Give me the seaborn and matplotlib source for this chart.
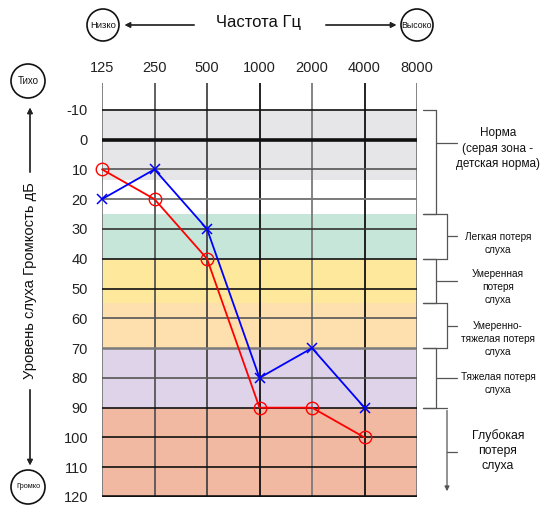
import matplotlib
matplotlib.use("Agg")
import matplotlib.pyplot as plt
import matplotlib.transforms as mtransforms
from matplotlib.patches import Ellipse
from matplotlib.lines import Line2D
import pandas as pd
import seaborn as sns

# data
freqs = ["125", "250", "500", "1000", "2000", "4000", "8000"]
right_ear = [10, 20, 40, 90, 90, 100]   # red circles
left_ear = [20, 10, 30, 80, 70, 90]     # blue crosses
db_ticks = [-10, 0, 10, 20, 30, 40, 50, 60, 70, 80, 90, 100, 110, 120]

zone_bounds = [(-10, 13.5), (25, 40), (40, 55), (55, 70), (70, 90), (90, 120)]
zone_colors = ["#e6e6e8", "#c6e6da", "#fde89b", "#fee0ae", "#dfd3ea", "#f2b9a2"]
zone_labels = ["Норма\n(серая зона -\nдетская норма)", "Легкая потеря\nслуха",
               "Умеренная\nпотеря\nслуха", "Умеренно-\nтяжелая потеря\nслуха",
               "Тяжелая потеря\nслуха", "Глубокая\nпотеря\nслуха"]

sns.set_style("white")
plt.rcParams['font.family'] = ['Liberation Sans', 'DejaVu Sans']

W, H = 550, 515
fig = plt.figure(figsize=(5.5, 5.15), dpi=100)
ax = fig.add_axes([102 / W, 18 / H, 315 / W, 414 / H])


def px(x, y):
    return (x / W, 1 - y / H)


# colored zones
for (a, b), c in zip(zone_bounds, zone_colors):
    ax.axhspan(a, b, color=c, lw=0, zorder=0)

# grid
v_colors = ["#7a7a7a", "#555555", "#444444", "#111111", "#7a7a7a", "#111111", "#7a7a7a"]
for i, c in enumerate(v_colors):
    ax.vlines(i, -19, 120, color=c, lw=1.3, zorder=1)
h_colors = ["#111", "#111", "#555", "#7a7a7a", "#333", "#111", "#111", "#555",
            "#7a7a7a", "#555", "#111", "#111", "#111", "#111"]
h_widths = [1.2, 2.6, 1.2, 1.4, 1.2, 1.2, 1.2, 1.2, 1.8, 1.2, 1.2, 1.2, 1.2, 2.6]
for yv, c, w in zip(db_ticks, h_colors, h_widths):
    ax.hlines(yv, 0, 6, color=c, lw=w, zorder=1)

df = pd.DataFrame({"x": list(range(len(right_ear))), "right": right_ear, "left": left_ear})
sns.lineplot(data=df, x="x", y="right", color="red", lw=1.3, marker="o", ms=9,
             markerfacecolor="none", markeredgecolor="red", markeredgewidth=1, ax=ax,
             zorder=3, clip_on=False)
sns.lineplot(data=df, x="x", y="left", color="blue", lw=1.3, marker="x", ms=7,
             markeredgecolor="blue", markeredgewidth=1.1, ax=ax, zorder=3, clip_on=False)

ax.set_xlim(0, 6)
ax.set_ylim(120, -19)
ax.xaxis.tick_top()
ax.set_xticks(range(len(freqs)))
ax.set_xticklabels(freqs)
ax.set_yticks(db_ticks)
ax.set_yticklabels([str(t) for t in db_ticks])
ax.tick_params(axis="x", length=0, pad=6, labelsize=10.5, colors="#222")
ax.tick_params(axis="y", length=0, pad=10, labelsize=10.5, colors="#222")
ax.set_xlabel("")
ax.set_ylabel("")
for s in ax.spines.values():
    s.set_visible(False)

# right-side brackets
tr = mtransforms.blended_transform_factory(fig.transFigure, ax.transData)
br_x = [436, 447, 436, 447, 436, 447]
mid_y = [1, 32.5, 47.5, 62.5, 80, 105]
text_y = [3, 35, 49.5, 67, 82, 104.5]
text_size = [8.5, 7.3, 7.3, 7.3, 7.3, 8.8]
bc = "#555555"
for (a, b), xv, my, ty, ts, lab in zip(zone_bounds, br_x, mid_y, text_y, text_size, zone_labels):
    if a == -10:
        b = 25
    fig.add_artist(Line2D([423 / W, xv / W], [a, a], transform=tr, color=bc, lw=0.9))
    if b < 120:
        fig.add_artist(Line2D([423 / W, xv / W], [b, b], transform=tr, color=bc, lw=0.9))
        fig.add_artist(Line2D([xv / W, xv / W], [a, b], transform=tr, color=bc, lw=0.9))
    fig.add_artist(Line2D([xv / W, 457 / W], [my, my], transform=tr, color=bc, lw=0.9))
    fig.text(498 / W, ty, lab, transform=tr, ha="center", va="center", fontsize=ts,
             color="#111", linespacing=1.35)
ax.annotate("", xy=(447 / W, 119), xytext=(447 / W, 90), xycoords=tr, textcoords=tr,
            arrowprops=dict(arrowstyle="-|>", color=bc, lw=0.9, mutation_scale=7),
            annotation_clip=False)

# circles with labels
for cx, cy, r, lab, fs in [(103, 25, 16, "Низко", 6.8), (417, 25, 16, "Высоко", 6.3),
                           (28, 81, 17, "Тихо", 7), (28, 487, 17, "Громко", 5.3)]:
    fig.add_artist(Ellipse(px(cx, cy), 2 * r / W, 2 * r / H, transform=fig.transFigure,
                           fill=False, ec="#111", lw=1.2))
    fig.text(*px(cx, cy), lab, ha="center", va="center", fontsize=fs, color="#111")

arrow = dict(arrowstyle="-|>", color="#222", lw=0.9, mutation_scale=8)
fig.add_artist(plt.annotate("", xy=px(122, 25), xytext=px(197, 25), xycoords="figure fraction",
                            arrowprops=arrow, annotation_clip=False))
fig.add_artist(plt.annotate("", xy=px(399, 25), xytext=px(323, 25), xycoords="figure fraction",
                            arrowprops=arrow, annotation_clip=False))
fig.add_artist(plt.annotate("", xy=px(30, 105), xytext=px(30, 175), xycoords="figure fraction",
                            arrowprops=arrow, annotation_clip=False))
fig.add_artist(plt.annotate("", xy=px(30, 468), xytext=px(30, 387), xycoords="figure fraction",
                            arrowprops=arrow, annotation_clip=False))

fig.text(*px(258, 23), "Частота Гц", ha="center", va="center", fontsize=12, color="#111")
fig.text(*px(30, 281), "Уровень слуха Громкость дБ", ha="center", va="center",
         rotation=90, fontsize=10.6, color="#111")

fig.savefig("out.png", dpi=100)
